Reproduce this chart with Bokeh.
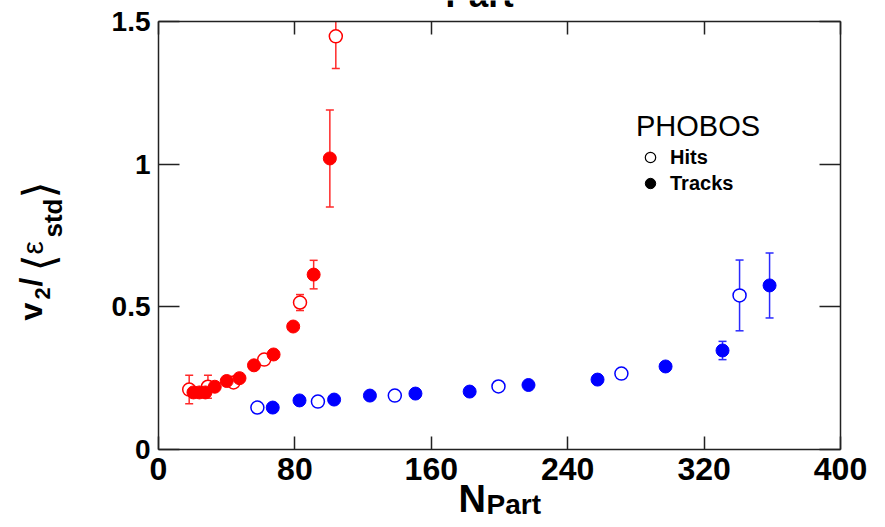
import numpy as np
from bokeh.plotting import figure
from bokeh.models import (Label, Legend, LegendItem, LinearAxis,
                          FixedTicker, Range1d, NumeralTickFormatter)
from bokeh.embed import file_html
from bokeh.resources import INLINE

# ---------------- data ----------------
x_ticks = [0, 80, 160, 240, 320, 400]
y_ticks = [0, 0.5, 1.0, 1.5]

# red series (small system)
red_hits_npart = [18, 29, 44, 62, 83, 104]
red_hits_v2 = [0.21, 0.22, 0.235, 0.315, 0.515, 1.448]
red_hits_err = [0.05, 0.04, 0.0, 0.0, 0.028, 0.113]

red_tracks_npart = [20.5, 24, 27.5, 33, 40, 47.5, 56, 67.5, 79, 91, 100.5]
red_tracks_v2 = [0.20, 0.20, 0.20, 0.22, 0.24, 0.25, 0.295, 0.333, 0.431, 0.613, 1.02]
red_tracks_err = [0.0, 0.0, 0.0, 0.0, 0.0, 0.0, 0.0, 0.012, 0.0, 0.05, 0.17]

# blue series (large system)
blue_hits_npart = [58, 93.5, 138.6, 199.4, 271.5, 340.8]
blue_hits_v2 = [0.147, 0.168, 0.189, 0.221, 0.266, 0.54]
blue_hits_err = [0.0, 0.0, 0.0, 0.0, 0.0, 0.124]

blue_tracks_npart = [67, 82.7, 103, 124, 150.7, 182.5, 217, 257.5, 297.4, 330.8, 358.4]
blue_tracks_v2 = [0.147, 0.172, 0.175, 0.189, 0.196, 0.203, 0.226, 0.245, 0.291, 0.347, 0.575]
blue_tracks_err = [0.0, 0.0, 0.0, 0.0, 0.0, 0.0, 0.0, 0.0, 0.0, 0.032, 0.114]

RED = "#ff0000"
BLUE = "#0000ff"
RED_BAR = "#ff2a2a"
BLUE_BAR = "#2a2aff"
FONT = "Liberation Sans"
LINE = "#222222"

# ---------------- layout geometry (pixels) ----------------
W, H = 877, 519
BOX_L, BOX_R, BOX_T, BOX_B = 158, 840, 21, 449   # drawn plot box on the canvas
X0, X1 = x_ticks[0], x_ticks[-1]
Y0, Y1 = y_ticks[0], y_ticks[-1]
sx = (BOX_R - BOX_L) / (X1 - X0)
sy = (BOX_B - BOX_T) / (Y1 - Y0)
x_range = Range1d(X0 - BOX_L / sx, X1 + (W - BOX_R) / sx)
y_range = Range1d(Y0 - (H - BOX_B) / sy, Y1 + BOX_T / sy)

p = figure(width=W, height=H, output_backend="svg", toolbar_location=None,
           x_range=x_range, y_range=y_range,
           x_axis_type=None, y_axis_type=None,
           min_border_left=0, min_border_right=0,
           min_border_top=0, min_border_bottom=0)
p.title.visible = False
p.xgrid.visible = False
p.ygrid.visible = False
p.outline_line_color = None
p.background_fill_color = "white"
p.border_fill_color = "white"


def style_axis(ax, ticks, bounds, loc, tick_len, font_size, show_labels, standoff):
    ax.ticker = FixedTicker(ticks=ticks)
    ax.formatter = NumeralTickFormatter(format="0.[0]")
    ax.bounds = bounds
    ax.fixed_location = loc
    ax.axis_line_color = LINE
    ax.axis_line_width = 1.5
    ax.major_tick_line_color = LINE
    ax.major_tick_line_width = 1.5
    ax.major_tick_in = tick_len
    ax.major_tick_out = 0
    ax.minor_tick_line_color = None
    ax.major_label_standoff = standoff
    ax.major_label_text_font = FONT
    ax.major_label_text_font_style = "bold"
    if show_labels:
        ax.major_label_text_color = "black"
        ax.major_label_text_font_size = font_size
    else:
        ax.major_label_text_color = None
        ax.major_label_text_font_size = "1px"


xb = LinearAxis()
style_axis(xb, x_ticks, (X0, X1), Y0, 13, "32px", True, 8)
p.add_layout(xb, "below")
xt = LinearAxis()
style_axis(xt, x_ticks, (X0, X1), Y1, 13, "32px", False, 0)
p.add_layout(xt, "above")
yl = LinearAxis()
style_axis(yl, y_ticks, (Y0, Y1), X0, 21, "28px", True, 8)
p.add_layout(yl, "left")
yr = LinearAxis()
style_axis(yr, y_ticks, (Y0, Y1), X1, 21, "28px", False, 0)
p.add_layout(yr, "right")


def error_bars(xs, ys, errs, color):
    bx, lo, hi = [], [], []
    cap_x, cap_y = [], []
    for x, y, e in zip(xs, ys, errs):
        if e <= 0:
            continue
        bx.append(x)
        lo.append(y - e)
        hi.append(min(y + e, Y1))      # bars stop at the plot box
        cap_x.append(x)
        cap_y.append(y - e)
        if y + e <= Y1:
            cap_x.append(x)
            cap_y.append(y + e)
    p.segment(x0=bx, y0=lo, x1=bx, y1=hi, line_color=color, line_width=1.5)
    p.scatter(cap_x, cap_y, marker="dash", size=8, line_color=color, line_width=1.5)


error_bars(red_hits_npart, red_hits_v2, red_hits_err, RED_BAR)
error_bars(red_tracks_npart, red_tracks_v2, red_tracks_err, RED_BAR)
error_bars(blue_hits_npart, blue_hits_v2, blue_hits_err, BLUE_BAR)
error_bars(blue_tracks_npart, blue_tracks_v2, blue_tracks_err, BLUE_BAR)

MS = 13
p.scatter(red_hits_npart, red_hits_v2, marker="circle", size=MS,
          fill_color="white", line_color=RED, line_width=1.5)
p.scatter(red_tracks_npart, red_tracks_v2, marker="circle", size=MS,
          fill_color=RED, line_color=RED, line_width=1)
p.scatter(blue_hits_npart, blue_hits_v2, marker="circle", size=MS,
          fill_color="white", line_color=BLUE, line_width=1.5)
p.scatter(blue_tracks_npart, blue_tracks_v2, marker="circle", size=MS,
          fill_color=BLUE, line_color=BLUE, line_width=1)

# legend key renderers (black, not drawn in the data area)
leg_open = p.scatter([np.nan], [np.nan], marker="circle", size=MS,
                     fill_color="white", line_color="black", line_width=1.2)
leg_fill = p.scatter([np.nan], [np.nan], marker="circle", size=MS,
                     fill_color="black", line_color="black", line_width=1)

legend = Legend(items=[LegendItem(label="Hits", renderers=[leg_open]),
                       LegendItem(label="Tracks", renderers=[leg_fill])],
                location=(636, 323), title="PHOBOS",
                border_line_color=None, background_fill_alpha=0,
                padding=0, margin=0, spacing=0,
                glyph_width=28, glyph_height=26, label_height=26,
                label_standoff=6,
                label_text_font=FONT, label_text_font_style="bold",
                label_text_font_size="20px", label_text_color="black",
                title_text_font=FONT, title_text_font_style="normal",
                title_text_font_size="29px", title_text_color="black",
                title_standoff=1)
p.add_layout(legend, "center")

MID = 0.36   # labels are anchored about 0.36 em above the baseline


def add_text(txt, base_x, base_y, size_px, style="bold", font=FONT, rotated=False):
    """base_x/base_y: wanted baseline start, page pixels from the top-left."""
    if rotated:
        x = base_x - MID * size_px
        y = H - base_y
        angle = np.pi / 2
    else:
        x = base_x
        y = H - (base_y - MID * size_px)
        angle = 0.0
    p.add_layout(Label(x=x, y=y, x_units="screen", y_units="screen", text=txt,
                       angle=angle, text_align="left", text_baseline="alphabetic",
                       text_font=font, text_font_style=style,
                       text_font_size=f"{size_px}px", text_color="black"))


# y axis title: v2 / <eps_std>, rotated
add_text("v", 42, 320, 32, rotated=True)
add_text("2", 50, 299, 22, rotated=True)
add_text("/", 42, 286, 32, rotated=True)
add_text("\u27e8", 54, 271, 44, "normal", "DejaVu Sans", rotated=True)
add_text("\u03b5", 43, 254, 30, "normal", rotated=True)
add_text("std", 62, 237, 26, rotated=True)
add_text("\u27e9", 54, 198, 44, "normal", "DejaVu Sans", rotated=True)

# x axis title: N_Part
add_text("N", 458, 512, 38)
add_text("Part", 486, 514, 28)

# remnant of the title cut by the top edge
add_text("Part", 445, 7, 35)

open("out.html", "w").write(file_html(p, INLINE))
